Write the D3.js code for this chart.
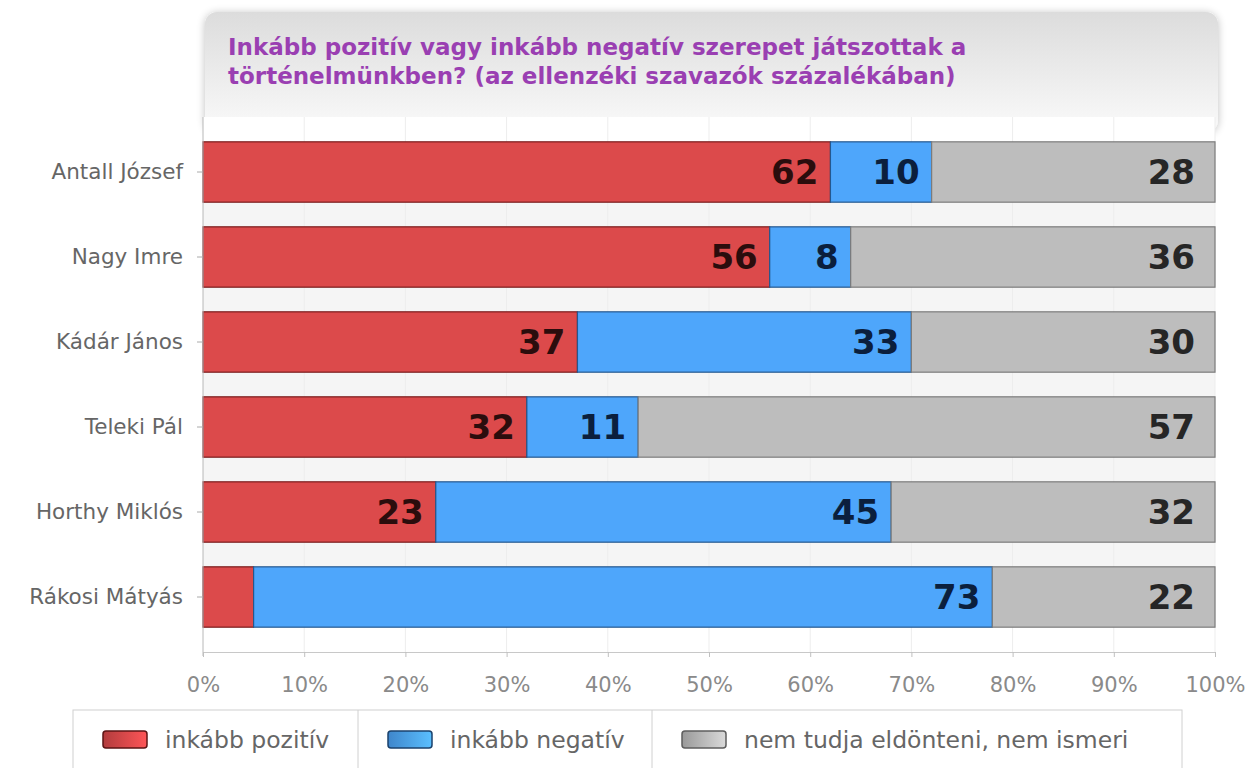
<!DOCTYPE html>
<html>
<head>
<meta charset="utf-8">
<script src="https://cdn.jsdelivr.net/npm/d3@7"></script>
<style>
  body { margin: 0; background: #fff; }
  text { font-family: Verdana, "DejaVu Sans", sans-serif; }
</style>
</head>
<body>
<script>
const width = 1252
const height = 768

const names = ['Antall József', 'Nagy Imre', 'Kádár János', 'Teleki Pál', 'Horthy Miklós', 'Rákosi Mátyás']
const pozitiv = [62, 56, 37, 32, 23, 5]
const negativ = [10, 8, 33, 11, 45, 73]
const nemTudja = [28, 36, 30, 57, 32, 22]
const seriesNames = ['inkább pozitív', 'inkább negatív', 'nem tudja eldönteni, nem ismeri']
const tickValues = [0, 10, 20, 30, 40, 50, 60, 70, 80, 90, 100]
const titleLines = ['Inkább pozitív vagy inkább negatív szerepet játszottak a',
  'történelmünkben? (az ellenzéki szavazók százalékában)']

const fills = ['#dc4a4b', '#4ea6fb', '#bdbdbd']
const strokes = ['#7a1c1c', '#24588f', '#7c7c7c']
const labelColors = ['#2b0d0d', '#0b1f3d', '#262626']

const rows = names.map((n, i) => ({ name: n, vals: [pozitiv[i], negativ[i], nemTudja[i]] }))

const x = d3.scaleLinear().domain([0, 100]).range([203, 1215])
const y = d3.scaleBand().domain(names).range([129.5, 639.5]).paddingInner(0.29).paddingOuter(0.145)

const svg = d3.select('body').append('svg').attr('width', width).attr('height', height)
const defs = svg.append('defs')

const tg = defs.append('linearGradient').attr('id', 'titleGrad').attr('x1', 0).attr('y1', 0).attr('x2', 0).attr('y2', 1)
tg.append('stop').attr('offset', '0%').attr('stop-color', '#dcdcdc')
tg.append('stop').attr('offset', '100%').attr('stop-color', '#fafafa')

const sh = defs.append('filter').attr('id', 'shadow').attr('x', '-5%').attr('y', '-20%').attr('width', '110%').attr('height', '140%')
sh.append('feGaussianBlur').attr('in', 'SourceAlpha').attr('stdDeviation', 4)
sh.append('feOffset').attr('dx', 0).attr('dy', 1).attr('result', 'b')
sh.append('feComponentTransfer').append('feFuncA').attr('type', 'linear').attr('slope', 0.25)
const mg = sh.append('feMerge')
mg.append('feMergeNode')
mg.append('feMergeNode').attr('in', 'SourceGraphic')

// legend swatch gradients
fills.forEach((c, i) => {
  const g = defs.append('linearGradient').attr('id', 'sw' + i)
  g.append('stop').attr('offset', '0%').attr('stop-color', d3.color(c).darker(0.6))
  g.append('stop').attr('offset', '100%').attr('stop-color', d3.color(c).brighter(0.4))
})

// title panel
svg.append('rect')
  .attr('x', 205).attr('y', 12).attr('width', 1013).attr('height', 120)
  .attr('rx', 12).attr('fill', 'url(#titleGrad)').attr('filter', 'url(#shadow)')

svg.selectAll('text.title')
  .data(titleLines)
  .join('text')
  .attr('class', 'title')
  .attr('x', 228)
  .attr('y', (d, i) => 55 + i * 29)
  .attr('fill', '#9a3fb2')
  .attr('font-weight', 'bold')
  .style('font-size', '23px')
  .text(d => d)

// plot background
svg.append('rect')
  .attr('x', x(0)).attr('y', 117).attr('width', x(100) - x(0)).attr('height', 536)
  .attr('fill', '#ffffff')

// gaps between bars, a light band
svg.selectAll('rect.gap')
  .data(names.slice(0, -1))
  .join('rect')
  .attr('class', 'gap')
  .attr('x', x(0))
  .attr('y', d => y(d) + y.bandwidth())
  .attr('width', x(100) - x(0))
  .attr('height', y.step() - y.bandwidth())
  .attr('fill', '#f5f5f5')

// faint grid
svg.selectAll('line.grid')
  .data(tickValues.slice(1))
  .join('line')
  .attr('class', 'grid')
  .attr('x1', d => x(d)).attr('x2', d => x(d))
  .attr('y1', 117).attr('y2', 652)
  .attr('stroke', '#ededed')

// bars
const rowG = svg.selectAll('g.row')
  .data(rows)
  .join('g')
  .attr('class', 'row')
  .attr('transform', d => `translate(0,${y(d.name)})`)

rowG.each(function (d) {
  let acc = 0
  const segs = d.vals.map((v, k) => {
    const s = { k: k, v: v, x0: acc, x1: acc + v }
    acc += v
    return s
  })
  const g = d3.select(this)
  g.selectAll('rect')
    .data(segs)
    .join('rect')
    .attr('x', s => x(s.x0))
    .attr('y', 0)
    .attr('width', s => x(s.x1) - x(s.x0))
    .attr('height', y.bandwidth())
    .attr('fill', s => fills[s.k])
    .attr('stroke', s => strokes[s.k])
    .attr('stroke-width', 1.2)
  g.selectAll('text')
    .data(segs.filter(s => s.v >= 8))
    .join('text')
    .attr('x', s => x(s.x1) - (s.k === 2 ? 20 : 12))
    .attr('y', y.bandwidth() / 2)
    .attr('dy', '0.36em')
    .attr('text-anchor', 'end')
    .attr('font-weight', 'bold')
    .style('font-size', '34px')
    .attr('fill', s => labelColors[s.k])
    .text(s => s.v)
})

// left axis
const yAxis = svg.append('g')
  .attr('transform', `translate(${x(0)},0)`)
  .call(d3.axisLeft(y).tickSize(6).tickPadding(14))
yAxis.select('.domain').attr('stroke', '#b8b8b8').attr('d', 'M0,117V656')
yAxis.selectAll('.tick line').attr('stroke', '#aaa')
yAxis.selectAll('.tick text')
  .attr('fill', '#666')
  .style('font-size', '21.5px')
  .style('font-family', 'Verdana, "DejaVu Sans", sans-serif')

// bottom axis
const xAxis = svg.append('g')
  .attr('transform', 'translate(0,652)')
  .call(d3.axisBottom(x).tickValues(tickValues).tickFormat(d => d + '%').tickSize(5).tickPadding(20))
xAxis.select('.domain').attr('stroke', '#c8c8c8')
xAxis.selectAll('.tick line').attr('stroke', '#c0c0c0')
xAxis.selectAll('.tick text')
  .attr('fill', '#8a8a8a')
  .style('font-size', '21px')
  .style('font-family', 'Verdana, "DejaVu Sans", sans-serif')

// legend
const legendCells = [73, 358, 652, 1182]
const legend = svg.append('g')
legend.append('rect')
  .attr('x', legendCells[0]).attr('y', 710)
  .attr('width', legendCells[3] - legendCells[0]).attr('height', 70)
  .attr('fill', '#fff').attr('stroke', '#d0d0d0')
legend.selectAll('line')
  .data(legendCells.slice(1, 3))
  .join('line')
  .attr('x1', d => d).attr('x2', d => d)
  .attr('y1', 710).attr('y2', 768)
  .attr('stroke', '#d0d0d0')

const item = legend.selectAll('g.item')
  .data(seriesNames)
  .join('g')
  .attr('class', 'item')
  .attr('transform', (d, i) => `translate(${legendCells[i] + 30},0)`)
item.append('rect')
  .attr('x', 0).attr('y', 731).attr('width', 44).attr('height', 17).attr('rx', 3)
  .attr('fill', (d, i) => `url(#sw${i})`)
  .attr('stroke', (d, i) => d3.color(strokes[i]).darker(0.8))
  .attr('stroke-width', 1.5)
item.append('text')
  .attr('x', 62).attr('y', 740).attr('dy', '0.36em')
  .attr('fill', '#666')
  .style('font-size', '23.5px')
  .text(d => d)
</script>
</body>
</html>
